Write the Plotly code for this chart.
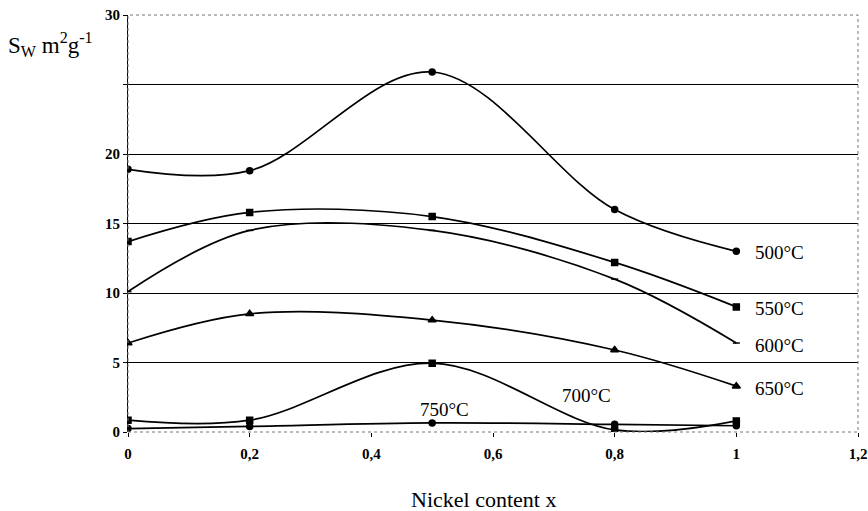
import plotly.graph_objects as go

x = [0, 0.2, 0.5, 0.8, 1]
s500 = [18.9, 18.8, 25.9, 16.0, 13.0]
s550 = [13.7, 15.8, 15.5, 12.2, 9.0]
s600 = [10.1, 14.5, 14.5, 11.0, 6.4]
s650 = [6.4, 8.5, 8.05, 5.9, 3.3]
s700 = [0.85, 0.85, 4.95, 0.15, 0.8]
s750 = [0.25, 0.4, 0.65, 0.55, 0.45]

x_ticks = [0, 0.2, 0.4, 0.6, 0.8, 1, 1.2]
x_ticklabels = ["0", "0,2", "0,4", "0,6", "0,8", "1", "1,2"]
y_ticks = [0, 5, 10, 15, 20, 25, 30]
y_ticklabels = ["0", "5", "10", "15", "20", "", "30"]

series = [
    ("500°C", s500, "circle", 6),
    ("550°C", s550, "square", 6),
    ("600°C", s600, "line-ew", 5),
    ("650°C", s650, "triangle-up", 7),
    ("700°C", s700, "square", 6),
    ("750°C", s750, "circle", 6),
]

labels = [
    ("500°C", 1.027, 12.95),
    ("550°C", 1.027, 8.9),
    ("600°C", 1.027, 6.25),
    ("650°C", 1.027, 3.15),
    ("700°C", 0.71, 2.65),
    ("750°C", 0.477, 1.6),
]

fig = go.Figure()
for name, ys, sym, sz in series:
    fig.add_trace(go.Scatter(
        x=x, y=ys, mode="lines+markers", name=name,
        line=dict(color="black", width=1.7, shape="spline", smoothing=1.0),
        marker=dict(symbol=sym, size=sz, color="black",
                    line=dict(color="black", width=1.5)),
        showlegend=False,
    ))

for text, lx, ly in labels:
    fig.add_annotation(x=lx, y=ly, text=text, showarrow=False,
                       xanchor="left", yanchor="middle",
                       font=dict(family="Liberation Serif", size=19, color="black"))

fig.add_annotation(xref="paper", yref="paper", x=-0.167, y=0.93,
                   text="S<sub>W</sub> m<sup>2</sup>g<sup>-1</sup>", showarrow=False,
                   xanchor="left", yanchor="middle",
                   font=dict(family="Liberation Serif", size=23, color="black"))

fig.add_annotation(xref="paper", yref="paper", x=0.487, y=-0.162,
                   text="Nickel content x", showarrow=False,
                   xanchor="center", yanchor="middle",
                   font=dict(family="Liberation Serif", size=22, color="black"))

# plot frame
fig.add_shape(type="rect", xref="paper", yref="paper", x0=0, y0=0, x1=1, y1=1,
              line=dict(color="#777777", width=1, dash="dot"))

fig.update_layout(
    width=868, height=511,
    margin=dict(l=128, r=10, t=15, b=79),
    paper_bgcolor="white", plot_bgcolor="white",
    font=dict(family="Liberation Serif", color="black"),
)
fig.update_xaxes(
    range=[0, 1.2], tickvals=x_ticks,
    ticktext=["<b>%s</b>" % t for t in x_ticklabels],
    showgrid=False, zeroline=False, showline=False, automargin=False,
    ticks="outside", ticklen=4, tickcolor="black", ticklabelstandoff=4,
    tickfont=dict(family="Liberation Serif", size=15, color="black"),
)
fig.update_yaxes(
    range=[0, 30], tickvals=y_ticks,
    ticktext=["<b>%s</b>" % t if t else "" for t in y_ticklabels],
    showgrid=True, gridcolor="black", gridwidth=1, zeroline=False,
    showline=True, linecolor="black", linewidth=1, automargin=False,
    ticks="outside", ticklen=4, tickcolor="black",
    tickfont=dict(family="Liberation Serif", size=15, color="black"),
)

fig.write_html("out.html")
